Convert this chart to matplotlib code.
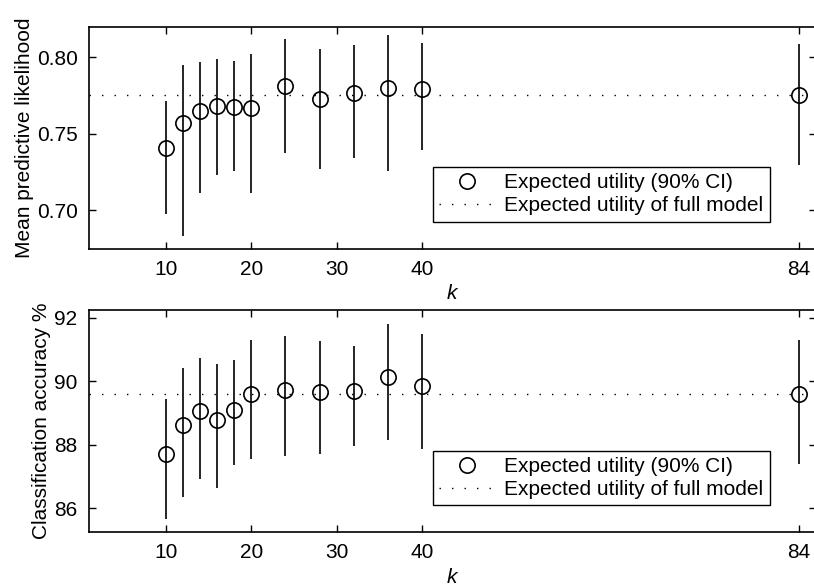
import numpy as np
import matplotlib
matplotlib.use("Agg")
import matplotlib.pyplot as plt

plt.rcParams["font.family"] = ["Liberation Sans", "DejaVu Sans"]
plt.rcParams["font.size"] = 15

# number of selected features
k = [10, 12, 14, 16, 18, 20, 24, 28, 32, 36, 40, 84]

# mean predictive likelihood: estimate and 90% CI
mpl_mean = [0.741, 0.757, 0.765, 0.768, 0.7675, 0.767, 0.781, 0.773, 0.777, 0.780, 0.779, 0.7755]
mpl_lo = [0.6976, 0.6835, 0.7112, 0.7231, 0.7257, 0.7112, 0.7372, 0.7273, 0.734, 0.7257, 0.7392, 0.730]
mpl_hi = [0.7712, 0.795, 0.7967, 0.7987, 0.7976, 0.8021, 0.8121, 0.8052, 0.808, 0.8145, 0.8095, 0.8084]
mpl_full = 0.7757

# classification accuracy %: estimate and 90% CI
acc_mean = [87.72, 88.64, 89.06, 88.80, 89.11, 89.62, 89.74, 89.66, 89.69, 90.13, 89.85, 89.61]
acc_lo = [85.67, 86.36, 86.93, 86.65, 87.38, 87.57, 87.66, 87.72, 87.98, 88.17, 87.87, 87.41]
acc_hi = [89.45, 90.43, 90.74, 90.55, 90.66, 91.32, 91.42, 91.28, 91.13, 91.81, 91.50, 91.32]
acc_full = 89.6

xticks = [10, 20, 30, 40, 84]

fig = plt.figure(figsize=(8.14, 5.87), dpi=100)
ax1 = fig.add_axes([0.109, 0.5763, 0.893, 0.3782])
ax2 = fig.add_axes([0.109, 0.0932, 0.893, 0.3787])

panels = [
    (ax1, mpl_mean, mpl_lo, mpl_hi, mpl_full, "Mean predictive likelihood",
     (0.675, 0.82), [0.70, 0.75, 0.80], "{:.2f}"),
    (ax2, acc_mean, acc_lo, acc_hi, acc_full, "Classification accuracy %",
     (85.25, 92.25), [86, 88, 90, 92], "{:.0f}"),
]

for ax, mean, lo, hi, full, ylab, ylim, yticks, fmt in panels:
    ax.vlines(k, lo, hi, color="black", lw=1.2)
    ax.plot(k, mean, "o", ms=11, mfc="none", mec="black", mew=1.2,
            label="Expected utility (90% CI)")
    ax.axhline(full, color="black", lw=1, linestyle=(0, (1, 8)),
               label="Expected utility of full model")
    ax.set_xlim(1, 86)
    ax.set_ylim(*ylim)
    ax.set_xticks(xticks)
    ax.set_yticks(yticks)
    ax.set_yticklabels([fmt.format(v) for v in yticks])
    ax.tick_params(direction="in", top=True, right=True, length=5, width=1, pad=8)
    for s in ax.spines.values():
        s.set_linewidth(1.2)
    ax.set_ylabel(ylab, labelpad=2)
    ax.set_xlabel("k", style="italic", labelpad=4)
    leg = ax.legend(loc="lower right", bbox_to_anchor=(0.937, 0.1216),
                    fancybox=False, framealpha=1, edgecolor="black",
                    borderpad=0.3, labelspacing=0.2, handlelength=2.7,
                    handletextpad=0.45, borderaxespad=0)
    leg.get_frame().set_linewidth(1.0)

fig.savefig("out.png", dpi=100)
